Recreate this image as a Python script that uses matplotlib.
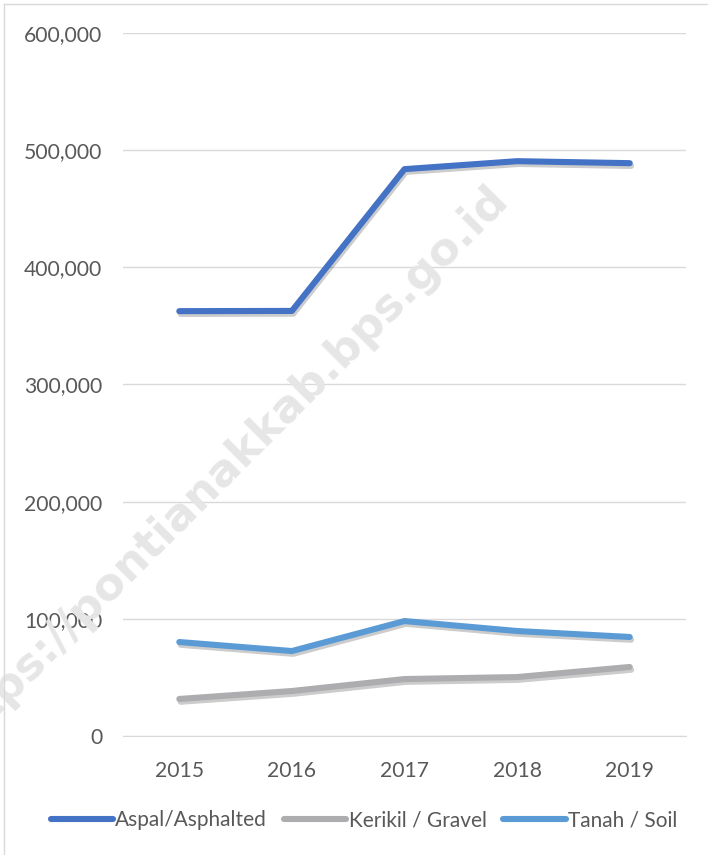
import matplotlib
matplotlib.use("Agg")
import matplotlib.pyplot as plt
import matplotlib.patheffects as pe
from matplotlib.lines import Line2D
from matplotlib.ticker import FuncFormatter

plt.rcParams['font.family'] = ['Lato', 'DejaVu Sans']

years = ["2015", "2016", "2017", "2018", "2019"]
aspal = [362600, 362800, 483800, 490600, 488900]
kerikil = [31600, 38400, 48600, 50300, 58900]
tanah = [80200, 72500, 98100, 89600, 84500]

series = [
    ("Aspal/Asphalted", aspal, "#4472C4"),
    ("Kerikil / Gravel", kerikil, "#ADADB0"),
    ("Tanah / Soil", tanah, "#5B9BD5"),
]

W, H = 708, 855
fig = plt.figure(figsize=(W / 100, H / 100), dpi=100)
ax = fig.add_axes([123 / W, 1 - 736 / H, (686 - 123) / W, (736 - 33) / H])
ax.patch.set_alpha(0)

# chart frame (left and top edges visible)
fig.add_artist(Line2D([4 / W, 4 / W], [0, 1 - 4 / H], transform=fig.transFigure, color="#d9d9d9", lw=1))
fig.add_artist(Line2D([4 / W, 1], [1 - 4 / H, 1 - 4 / H], transform=fig.transFigure, color="#d9d9d9", lw=1))

# watermark
fig.text(222 / W, 1 - 470 / H, "https://pontianakkab.bps.go.id", rotation=45,
         ha="center", va="center", fontsize=32.5, fontweight="bold", color="#e6e6e6",
         family="DejaVu Sans", zorder=0)

x = range(len(years))
for name, vals, col in series:
    ax.plot(x, vals, color=col, lw=4.4, solid_capstyle="round", solid_joinstyle="round",
            zorder=3, path_effects=[pe.SimpleLineShadow(offset=(1, -2), shadow_color="k", alpha=0.2),
                                    pe.Normal()])

ax.set_ylim(0, 600000)
ax.set_xlim(-0.5, len(years) - 0.5)
ax.set_yticks(range(0, 600001, 100000))
ax.yaxis.set_major_formatter(FuncFormatter(lambda v, p: f"{int(v):,}"))
ax.set_xticks(list(x))
ax.set_xticklabels(years)
ax.grid(axis="y", color="#d9d9d9", lw=1)
ax.set_axisbelow(True)
for s in ["top", "right", "left"]:
    ax.spines[s].set_visible(False)
ax.spines["bottom"].set_color("#d9d9d9")
ax.tick_params(length=0, labelsize=15.2, labelcolor="#595959")
ax.tick_params(axis="x", pad=18)
ax.tick_params(axis="y", pad=15)

handles = [Line2D([], [], color=c, lw=4.4, solid_capstyle="round") for _, _, c in series]
fig.legend(handles, [n for n, _, _ in series], loc="center", bbox_to_anchor=(364 / W, 1 - 820 / H),
           ncol=3, frameon=False, fontsize=15, handlelength=3.0, handletextpad=0.1,
           columnspacing=0.8, labelcolor="#595959")

fig.savefig("out.png", dpi=100)
